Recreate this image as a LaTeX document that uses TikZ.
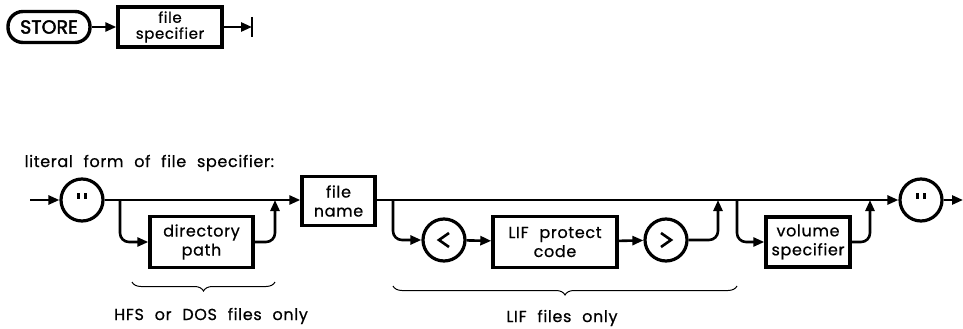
\documentclass[tikz,border=0pt]{standalone}
\usepackage{fontspec}
\setmainfont{Poppins}[LetterSpace=4,WordSpace=2.2,FakeBold=0.6]
\usetikzlibrary{arrows.meta,decorations.pathreplacing}
\begin{document}
\begin{tikzpicture}[x=1pt,y=-1pt,
  line width=2.6pt,
  >={Triangle[length=11pt,width=9pt]},
  box/.style={draw,line width=3.4pt,inner sep=0pt,align=center,font=\fontsize{16}{19}\selectfont},
  term/.style={draw,circle,line width=3.2pt,minimum size=42pt,inner sep=0pt},
  flow/.style={line width=2.6pt,->},
  branch/.style={line width=2.6pt,->,rounded corners=9pt},
  qmark/.style={line width=2.6pt},
  chev/.style={line width=2.6pt,line join=miter},
  brc/.style={decorate,decoration={brace,mirror,amplitude=9pt},line width=1pt},
  lbl/.style={font=\fontsize{16}{18}\selectfont}
]
\useasboundingbox (0,0) rectangle (963,329);

% top syntax line
\node[draw,line width=3.4pt,rounded corners=15pt,minimum width=82pt,minimum height=31pt,inner sep=0pt,font=\fontsize{19}{19}\selectfont\addfontfeature{FakeBold=2.2,LetterSpace=0}] (store) at (49,27) {STORE};
\node[box,minimum width=104pt,minimum height=40pt,font=\fontsize{15}{16}\selectfont] (fs) at (170,27) {file\\specifier};
\coordinate (endbar) at (252,27);
\draw[flow] (store) -- (fs);
\draw[flow] (fs) -- (endbar);
\draw[line width=2.6pt] ([yshift=10pt]endbar) -- ([yshift=-10pt]endbar);

% literal form
\node[lbl,anchor=west] (lit) at (20,163) {literal form of file specifier:};

\coordinate (start) at (30,200);
\node[term] (q1) at (82,200) {};
\node[box,minimum width=103pt,minimum height=51pt] (dp) at (201.5,242) {directory\\path};
\node[box,minimum width=73pt,minimum height=49pt] (fn) at (338.5,201) {file\\name};
\node[term] (lt) at (444,240) {};
\node[box,minimum width=124pt,minimum height=51pt] (lif) at (555,242) {LIF protect\\code};
\node[term] (gt) at (666,240) {};
\node[box,minimum width=84pt,minimum height=50pt] (vs) at (808,242) {volume\\specifier};
\node[term] (q2) at (921,200) {};
\coordinate (end) at (963,200);

\foreach \q in {q1,q2}{
  \draw[qmark] ([xshift=-3.5pt,yshift=7pt]\q.center) -- ++(0,-6pt);
  \draw[qmark] ([xshift=3.5pt,yshift=7pt]\q.center) -- ++(0,-6pt);
}
\draw[chev] ([xshift=5pt,yshift=7pt]lt.center) -- ([xshift=-5pt]lt.center) -- ([xshift=5pt,yshift=-7pt]lt.center);
\draw[chev] ([xshift=-5pt,yshift=7pt]gt.center) -- ([xshift=5pt]gt.center) -- ([xshift=-5pt,yshift=-7pt]gt.center);

\coordinate (s1) at (120,200);
\coordinate (m1) at (275,200);
\coordinate (s2) at (393,200);
\coordinate (m2) at (718,200);
\coordinate (s3) at (737,200);
\coordinate (m3) at (870,200);

\draw[flow] (start) -- (q1);
\draw[flow] (q1) -- (q1 -| fn.west);
\draw[flow] (fn.east |- q2) -- (q2);
\draw[flow] (q2) -- (end);

\draw[branch] (s1) |- (dp);
\draw[branch] (dp) -| (m1);
\draw[branch] (s2) |- (lt);
\draw[flow] (lt) -- (lif);
\draw[flow] (lif) -- (gt);
\draw[branch] (gt) -| (m2);
\draw[branch] (s3) |- (vs);
\draw[branch] (vs) -| (m3);

\draw[brc] (132,282) -- (275,282);
\draw[brc] (393,286) -- (737,286);
\node[lbl] (hfs) at (211,316) {HFS or DOS files only};
\node[lbl] (lifonly) at (562,318) {LIF files only};
\end{tikzpicture}
\end{document}
